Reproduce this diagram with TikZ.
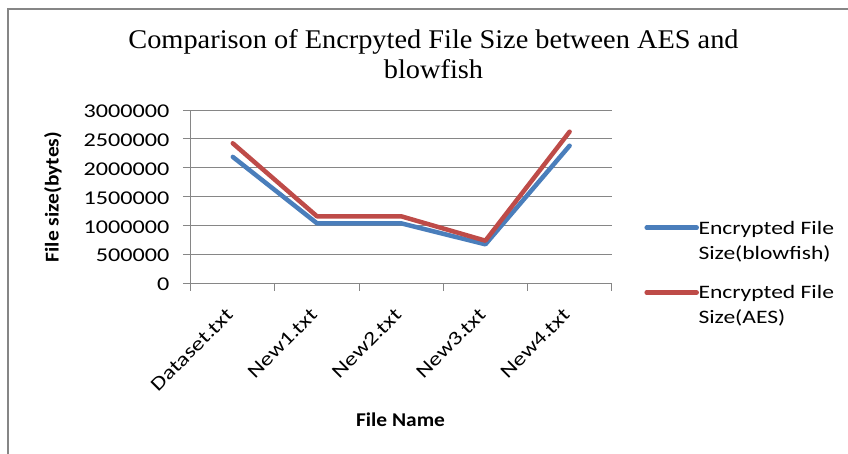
\documentclass[tikz,border=0pt]{standalone}
\usepackage{fontspec}
\setmainfont{Carlito}
\newfontfamily\chartfont[FakeStretch=1.24]{Carlito}
\newfontfamily\chartbold[FakeStretch=1.1]{Carlito}
\newfontfamily\titlefont[FakeStretch=1.05]{Liberation Serif}
\definecolor{gridgray}{HTML}{868686}
\definecolor{seriesblue}{HTML}{4A7EBB}
\definecolor{seriesred}{HTML}{BE4B48}

\begin{document}
\begin{tikzpicture}[x=1pt,y=-1pt,
  frameline/.style={draw=gridgray, line width=1.6pt},
  gridline/.style={draw=gridgray, line width=1pt},
  series/.style={line width=4.5pt, line join=round, line cap=round},
  ticklabel/.style={font=\chartfont\fontsize{19.5}{22}\selectfont, inner sep=0pt, anchor=base east},
  catlabel/.style={font=\chartfont\fontsize{19.5}{22}\selectfont, inner sep=0pt, anchor=base east, rotate=45},
  legendtext/.style={font=\chartfont\fontsize{19}{22}\selectfont, inner sep=0pt, anchor=base west},
  axistitle/.style={font=\chartbold\bfseries\fontsize{19.5}{22}\selectfont, inner sep=0pt},
  charttitle/.style={font=\titlefont\fontsize{27}{30}\selectfont, inner sep=0pt, anchor=base}]
\useasboundingbox (0,0) rectangle (848,453);

% outer chart frame (top and left edges)
\draw[frameline] (849,9) -- (8,9) -- (8,454);

% title
\node[charttitle] (title1) at (433.5,48.5) {Comparison of Encrpyted File Size between AES and};
\node[charttitle] (title2) at (433.5,78.5) {blowfish};

% plot area: origin at the value axis, 84.2 px per category, 57.9 px per million bytes
\begin{scope}[shift={(190.7pt,-283.7pt)}, x=84.2pt, y=57.9pt]
  % horizontal gridlines and value-axis ticks
  \foreach \v in {0.5,1,...,3} {
    \draw[gridline] (-0.0915,\v) -- (5,\v);
  }
  \draw[gridline] (-0.0915,0) -- (5,0);
  \draw[gridline] (0,3) -- (0,-0.13);
  % category ticks
  \foreach \c in {1,...,5} {
    \draw[gridline] (\c,0) -- (\c,-0.13);
  }

  % data points
  \coordinate (b1) at (0.5,2.190);
  \coordinate (b2) at (1.5,1.043);
  \coordinate (b3) at (2.5,1.043);
  \coordinate (b4) at (3.5,0.680);
  \coordinate (b5) at (4.5,2.383);
  \coordinate (r1) at (0.5,2.425);
  \coordinate (r2) at (1.5,1.164);
  \coordinate (r3) at (2.5,1.164);
  \coordinate (r4) at (3.5,0.743);
  \coordinate (r5) at (4.5,2.625);

  \draw[series, seriesblue] (b1) -- (b2) -- (b3) -- (b4) -- (b5);
  \draw[series, seriesred] (r1) -- (r2) -- (r3) -- (r4) -- (r5);
\end{scope}

% value-axis labels
\foreach \i/\lab in {0/0,1/500000,2/1000000,3/1500000,4/2000000,5/2500000,6/3000000} {
  \pgfmathsetmacro{\yy}{283.7-\i*28.95+7.2}
  \node[ticklabel] (yl\i) at (169.5,\yy) {\lab};
}

% category labels
\foreach \i/\lab in {0/Dataset.txt,1/New1.txt,2/New2.txt,3/New3.txt,4/New4.txt} {
  \pgfmathsetmacro{\xx}{190.7+(\i+0.5)*84.2+1.5}
  \node[catlabel] (cl\i) at (\xx,316) {\lab};
}

% axis titles
\node[axistitle, anchor=base] (xtitle) at (400.5,426.7) {File Name};
\node[axistitle, rotate=90] (ytitle) at (53,197) {File size(bytes)};

% legend
\coordinate (lb0) at (646.7,227.7);
\coordinate (lb1) at (696.7,227.7);
\coordinate (lr0) at (646.7,292.5);
\coordinate (lr1) at (696.7,292.5);
\draw[seriesblue, line width=4.5pt, line cap=round] (lb0) -- (lb1);
\draw[seriesred, line width=4.5pt, line cap=round] (lr0) -- (lr1);
\node[legendtext] (lg1a) at (698.3,234) {Encrypted File};
\node[legendtext] (lg1b) at (698.3,259) {Size(blowfish)};
\node[legendtext] (lg2a) at (698.3,298.5) {Encrypted File};
\node[legendtext] (lg2b) at (698.3,323.5) {Size(AES)};
\end{tikzpicture}
\end{document}
